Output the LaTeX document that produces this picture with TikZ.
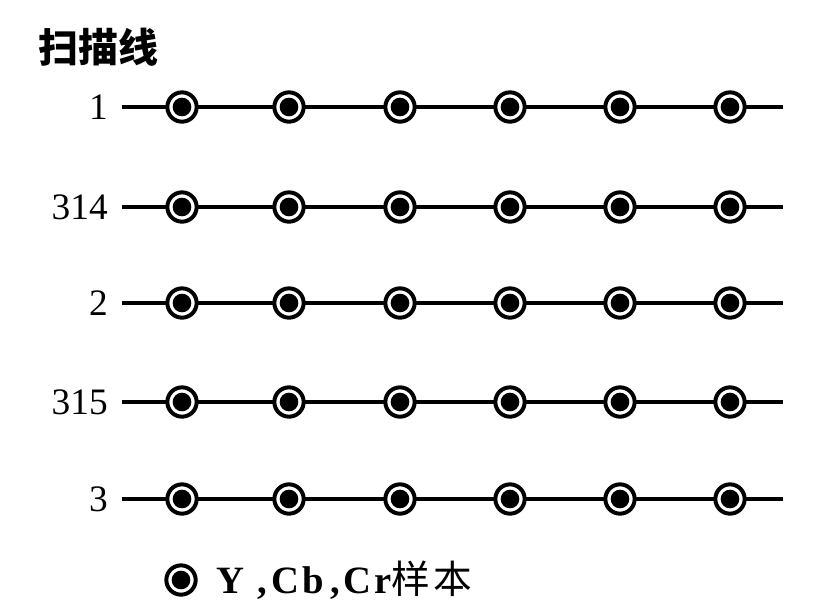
\documentclass[tikz,border=0pt]{standalone}
\usepackage{fontspec}
\setmainfont{Liberation Serif}
\newfontfamily\cjk{Noto Sans CJK SC}
\usetikzlibrary{positioning}

\begin{document}
\begin{tikzpicture}[x=0.75pt, y=-0.75pt,
  scan/.style={line width=2.5pt},
  smp/.style={circle, draw, line width=3pt, fill=white, inner sep=0pt, minimum size=22pt,
    path picture={\fill[black] (path picture bounding box.center) circle (7pt);}},
  lbl/.style={anchor=east, inner sep=0pt, font=\fontsize{28}{28}\selectfont}]
  \useasboundingbox (0,0) rectangle (820,615);

  % --- heading ---
  \node[anchor=west, inner sep=0pt, font=\cjk\bfseries\fontsize{30}{30}\selectfont] (title) at (38,47) {扫描线};

  % --- scan lines with samples ---
  \foreach \n/\y in {1/107, 314/207, 2/303, 315/402, 3/499} {
    \node[lbl] (l\n) at (108,\y) {\n};
    \coordinate (s\n) at (122,\y);
    \coordinate (e\n) at (783,\y);
    \draw[scan] (s\n) -- (e\n);
    \foreach \x [count=\k] in {182,289,400,510,620,730}
      \node[smp] (p\n-\k) at (\x,\y) {};
  }

  % --- legend ---
  \node[smp] (key) at (181,580) {};
  \node[right=14pt of key, inner sep=0pt, font=\bfseries\fontsize{29}{29}\selectfont] (keytext)
    {Y\hspace{10pt},\hspace{3pt}C\hspace{2pt}b\hspace{5pt},\hspace{3pt}C\hspace{2pt}r{\cjk\mdseries 样\hspace{2pt}本}};
\end{tikzpicture}
\end{document}
